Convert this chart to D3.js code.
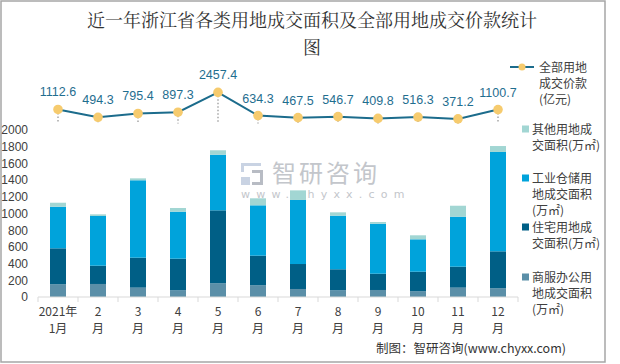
<!DOCTYPE html>
<html><head><meta charset="utf-8">
<script src="https://cdn.jsdelivr.net/npm/d3@7"></script>
<style>
html,body{margin:0;padding:0;background:#fff;}
svg{display:block;font-family:"Noto Sans CJK SC","Open Sans",sans-serif;}
</style></head>
<body><svg id="c" width="620" height="364"></svg>
<script>
const months = ["1","2","3","4","5","6","7","8","9","10","11","12"];
const xLabelTop = ["2021年","2","3","4","5","6","7","8","9","10","11","12"];
const xLabelBottom = ["1月","月","月","月","月","月","月","月","月","月","月","月"];
const commercial = [152,156,112,80,164,140,96,80,84,68,112,104];
const residential = [431,219,359,379,874,355,299,252,195,235,251,443];
const industrial = [498,595,927,563,666,603,767,642,599,388,599,1190];
const other = [48,20,23,44,53,84,115,40,20,48,131,71];
const price = [1112.6,494.3,795.4,897.3,2457.4,634.3,467.5,546.7,409.8,516.3,371.2,1100.7];
const yTicks = [0,200,400,600,800,1000,1200,1400,1600,1800,2000];
const seriesKeys = ["commercial","residential","industrial","other"];
const seriesColors = {commercial:"#5B8FA8", residential:"#005F86", industrial:"#00A3DB", other:"#A2D6D3"};
const legendItems = [
  {type:"line", lines:["全部用地","成交价款","(亿元)"]},
  {type:"rect", key:"other", lines:["其他用地成","交面积(万㎡)"]},
  {type:"rect", key:"industrial", lines:["工业仓储用","地成交面积","(万㎡)"]},
  {type:"rect", key:"residential", lines:["住宅用地成","交面积(万㎡)"]},
  {type:"rect", key:"commercial", lines:["商服办公用","地成交面积","(万㎡)"]}
];
const titleLines = ["近一年浙江省各类用地成交面积及全部用地成交价款统计","图"];

const svg = d3.select("#c");
svg.append("rect").attr("x",1).attr("y",1).attr("width",604).attr("height",361)
  .attr("fill","#fff").attr("stroke","#a6a6a6").attr("stroke-width",1.5);

// title
svg.append("g").selectAll("text").data(titleLines).join("text")
  .attr("x",312).attr("y",(d,i)=>27+i*27).attr("text-anchor","middle")
  .attr("font-size",18).attr("fill","#333")
  .attr("font-family","'Noto Serif CJK SC','Noto Sans CJK SC',serif")
  .text(d=>d);

const x = d3.scaleBand().domain(months).range([38,518]).paddingInner(0.6).paddingOuter(0.3);
const y = d3.scaleLinear().domain([0,2000]).range([297,130]);
const y2 = d3.scaleLinear().domain([0,2500]).range([123.6,91.8]);

// watermark
const wm = svg.append("g");
wm.append("path").attr("d","M241,163h20v3h-17v6h-3z M241,177h9v8h-9z").attr("fill","#c9d3e3");
wm.append("path").attr("d","M252,170h11v15h-11v-3h8v-9h-8z").attr("fill","#b8bcc4");
wm.append("text").attr("x",272).attr("y",182).attr("font-size",24).attr("letter-spacing",3)
  .attr("fill","#c3c6cb").text("智研咨询");
wm.append("text").attr("x",241).attr("y",198).attr("font-size",11).attr("letter-spacing",6.2)
  .attr("fill","#c3c6cb").attr("font-family","'DejaVu Sans',sans-serif").text("www.chyxx.com");

// stacked bars
const table = months.map((m,i)=>({month:m, commercial:commercial[i], residential:residential[i], industrial:industrial[i], other:other[i]}));
const stack = d3.stack().keys(seriesKeys)(table);
svg.append("g").selectAll("g").data(stack).join("g")
  .attr("fill",d=>seriesColors[d.key])
  .selectAll("rect").data(d=>d).join("rect")
  .attr("x",d=>x(d.data.month)).attr("width",x.bandwidth())
  .attr("y",d=>y(d[1])).attr("height",d=>y(d[0])-y(d[1]));

// y axis
const yAxis = svg.append("g").attr("transform","translate(28,0)")
  .call(d3.axisLeft(y).tickValues(yTicks).tickFormat(d3.format("d")).tickSize(0).tickPadding(0));
yAxis.select(".domain").remove();
yAxis.selectAll("text").attr("font-size",12).attr("fill","#404040").attr("font-family","'Liberation Sans',Arial,sans-serif");

// x axis
const xAxisG = svg.append("g").attr("transform",`translate(0,${y(0)})`);
xAxisG.append("line").attr("x1",x.range()[0]).attr("x2",x.range()[1]).attr("stroke","#d9d9d9");
const half = (x.step()-x.bandwidth())/2;
const bounds = months.map(m=>x(m)-half).concat([x(months[months.length-1])+x.bandwidth()+half]);
xAxisG.selectAll("line.t").data(bounds).join("line").attr("class","t")
  .attr("x1",d=>d).attr("x2",d=>d).attr("y1",0).attr("y2",5).attr("stroke","#d9d9d9");
const xl = svg.append("g").selectAll("text").data(months).join("text")
  .attr("x",d=>x(d)+x.bandwidth()/2).attr("text-anchor","middle")
  .attr("font-size",12).attr("fill","#404040");
xl.append("tspan").attr("x",d=>x(d)+x.bandwidth()/2).attr("y",316).text((d,i)=>xLabelTop[i]);
xl.append("tspan").attr("x",d=>x(d)+x.bandwidth()/2).attr("y",333).text((d,i)=>xLabelBottom[i]);

// drop lines
const cx = m => x(m)+x.bandwidth()/2;
svg.append("g").selectAll("line").data(months).join("line")
  .attr("x1",cx).attr("x2",cx).attr("y1",(d,i)=>y2(price[i])).attr("y2",y2(0))
  .attr("stroke","#a6a6a6").attr("stroke-width",1.5).attr("stroke-dasharray","1.5,2");

// price line
svg.append("path").datum(price)
  .attr("d",d3.line().x((d,i)=>cx(months[i])).y(d=>y2(d)))
  .attr("fill","none").attr("stroke","#1C6C8C").attr("stroke-width",2);
svg.append("g").selectAll("circle").data(price).join("circle")
  .attr("cx",(d,i)=>cx(months[i])).attr("cy",d=>y2(d)).attr("r",4.8)
  .attr("fill","#F6CB6E");
svg.append("g").selectAll("text").data(price).join("text")
  .attr("x",(d,i)=>cx(months[i])).attr("y",d=>y2(d)-13).attr("text-anchor","middle")
  .attr("font-size",12.5).attr("fill","#1F6E8F").attr("font-family","'Liberation Sans',Arial,sans-serif")
  .text(d=>d3.format(".1f")(d));

// legend
const legendY = [67,129,178,227,277];
const lg = svg.append("g");
legendItems.forEach((it,i)=>{
  const g = lg.append("g").attr("transform",`translate(0,${legendY[i]})`);
  if(it.type==="line"){
    g.append("line").attr("x1",510).attr("x2",534).attr("y1",0).attr("y2",0).attr("stroke","#1C6C8C").attr("stroke-width",2);
    g.append("circle").attr("cx",522).attr("cy",0).attr("r",3.5).attr("fill","#F6CB6E");
  } else {
    g.append("rect").attr("x",522).attr("y",-3.5).attr("width",7).attr("height",7).attr("fill",seriesColors[it.key]);
  }
  const tx = it.type==="line"?539:532;
  g.selectAll("text").data(it.lines).join("text")
    .attr("x",tx).attr("y",(d,j)=>4.5+j*16.3).attr("font-size",12).attr("fill","#404040").text(d=>d);
});

// source
svg.append("text").attr("x",566).attr("y",353).attr("text-anchor","end")
  .attr("font-size",12.5).attr("fill","#333").text("制图：智研咨询(www.chyxx.com)");
</script></body></html>
